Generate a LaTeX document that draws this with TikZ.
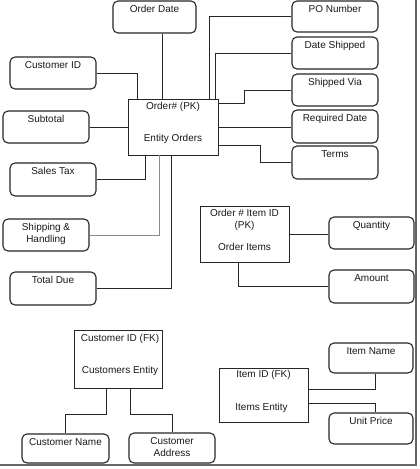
\documentclass[tikz,border=0pt]{standalone}
\usepackage{fontspec}
\setmainfont{Liberation Sans}
\begin{document}
\begin{tikzpicture}[x=1pt,y=-1pt,
  attr/.style={draw=black!85, rounded corners=5pt, line width=1.1pt, inner sep=0pt, minimum width=86pt, minimum height=32pt},
  ent/.style={draw=black!85, line width=0.85pt, inner sep=0pt},
  lab/.style={anchor=north, inner sep=0pt, yshift=-5pt, align=center, font=\fontsize{10}{12}\selectfont, text=black!90},
  txt/.style={inner sep=0pt, align=center, font=\fontsize{10}{12}\selectfont, text=black!90},
  conn/.style={draw=black!85, line width=0.9pt},
  ]
\useasboundingbox (0,0) rectangle (420,469);
% frame shadow
\draw[black!60, line width=1.2pt] (416,0) -- (416,465) -- (0,465);

% Orders entity
\node[ent, minimum width=90pt, minimum height=56pt] (eo) at (173,127) {};
\node[txt] (eo1) at ([yshift=-8.5pt]eo.north) {Order\# (PK)};
\node[txt] (eo2) at ([yshift=-40.5pt]eo.north) {Entity Orders};

% left attributes
\node[attr, minimum width=83pt, label={[lab]north:Order Date}] (od) at (154.5,17) {};
\node[attr, label={[lab]north:Customer ID}] (cid) at (53,73) {};
\node[attr, label={[lab]north:Subtotal}] (sub) at (46,127) {};
\node[attr, minimum height=33pt, label={[lab]north:Sales Tax}] (stx) at (53,179.5) {};
\node[attr, label={[lab]north:Shipping \&\\Handling}] (shh) at (46,235) {};
\node[attr, minimum height=33pt, label={[lab]north:Total Due}] (tdue) at (53,288.5) {};

% right attributes
\node[attr, minimum height=31pt, label={[lab]north:PO Number}] (po) at (335,16.5) {};
\node[attr, label={[lab]north:Date Shipped}] (dsh) at (335,53) {};
\node[attr, label={[lab]north:Shipped Via}] (sv) at (335,90) {};
\node[attr, minimum height=33pt, label={[lab]north:Required Date}] (rd) at (335,126.5) {};
\node[attr, minimum height=33pt, label={[lab]north:Terms}] (terms) at (335,162.5) {};

% connectors to Orders
\draw[conn] ([xshift=7.5pt]od.south) -- ([xshift=7.5pt]od.south |- eo.north);
\draw[conn] (cid.east) -| ([xshift=10pt]eo.north west);
\draw[conn] (sub.east) -- (eo.west);
\draw[conn] (stx.east) -| ([xshift=18pt]eo.south west);
\draw[draw=black!45, line width=0.8pt] (shh.east) -| ([xshift=32pt]eo.south west);
\draw[conn] (tdue.east) -| ([xshift=44pt]eo.south west);
\draw[conn] (po.west) -| ([xshift=-9pt]eo.north east);
\draw[conn] (dsh.west) -| ([xshift=-3pt]eo.north east);
\draw[conn] (sv.west) -| ([xshift=26pt,yshift=-5pt]eo.north east) -- ([yshift=-5pt]eo.north east);
\draw[conn] (eo.east) -- (eo.east -| rd.west);
\draw[conn] ([yshift=-18pt]eo.east) -| ([xshift=-31pt]terms.west) -- (terms.west);

% Order Items
\node[ent, minimum width=89pt, minimum height=56pt] (oi) at (244.5,234) {};
\node[txt] (oi1) at ([yshift=-7.5pt]oi.north) {Order \# Item ID};
\node[txt] (oi2) at ([yshift=-20.5pt]oi.north) {(PK)};
\node[txt] (oi3) at ([yshift=-41.5pt]oi.north) {Order Items};
\node[attr, minimum width=85pt, label={[lab]north:Quantity}] (qty) at (371.5,233) {};
\node[attr, minimum width=85pt, minimum height=33pt, label={[lab]north:Amount}] (amt) at (371.5,286.5) {};
\draw[conn] (oi.east) -- (oi.east -| qty.west);
\draw[conn] ([xshift=-6.5pt]oi.south) |- (amt.west);

% Customers entity
\node[ent, minimum width=88pt, minimum height=58pt] (ce) at (118,359) {};
\node[txt] (ce1) at ([xshift=2pt,yshift=-9.5pt]ce.north) {Customer ID (FK)};
\node[txt] (ce2) at ([xshift=2pt,yshift=-41.5pt]ce.north) {Customers Entity};
\node[attr, minimum width=87pt, minimum height=29pt, label={[lab]north:Customer Name}] (cn) at (65.5,448.5) {};
\node[attr, minimum height=30pt, label={[lab]north:Customer\\Address}] (ca) at (172,448) {};
\draw[conn] ([xshift=-12pt]ce.south) |- ([yshift=19pt]cn.north) -- (cn.north);
\draw[conn] ([xshift=12pt]ce.south) |- ([yshift=18pt]ca.north) -- (ca.north);

% Items entity
\node[ent, minimum width=89pt, minimum height=54pt] (ie) at (263.5,395) {};
\node[txt] (ie1) at ([yshift=-7pt]ie.north) {Item ID (FK)};
\node[txt] (ie2) at ([xshift=-2pt,yshift=-40pt]ie.north) {Items Entity};
\node[attr, minimum width=84pt, minimum height=30pt, label={[lab]north:Item Name}] (iname) at (371,358) {};
\node[attr, minimum width=84pt, minimum height=31pt, label={[lab]north:Unit Price}] (up) at (371,428.5) {};
\draw[conn] ([yshift=6pt]ie.east) -| ([xshift=4pt]iname.south);
\draw[conn] ([yshift=-8pt]ie.east) -| ([xshift=4pt]up.north);
\end{tikzpicture}
\end{document}
